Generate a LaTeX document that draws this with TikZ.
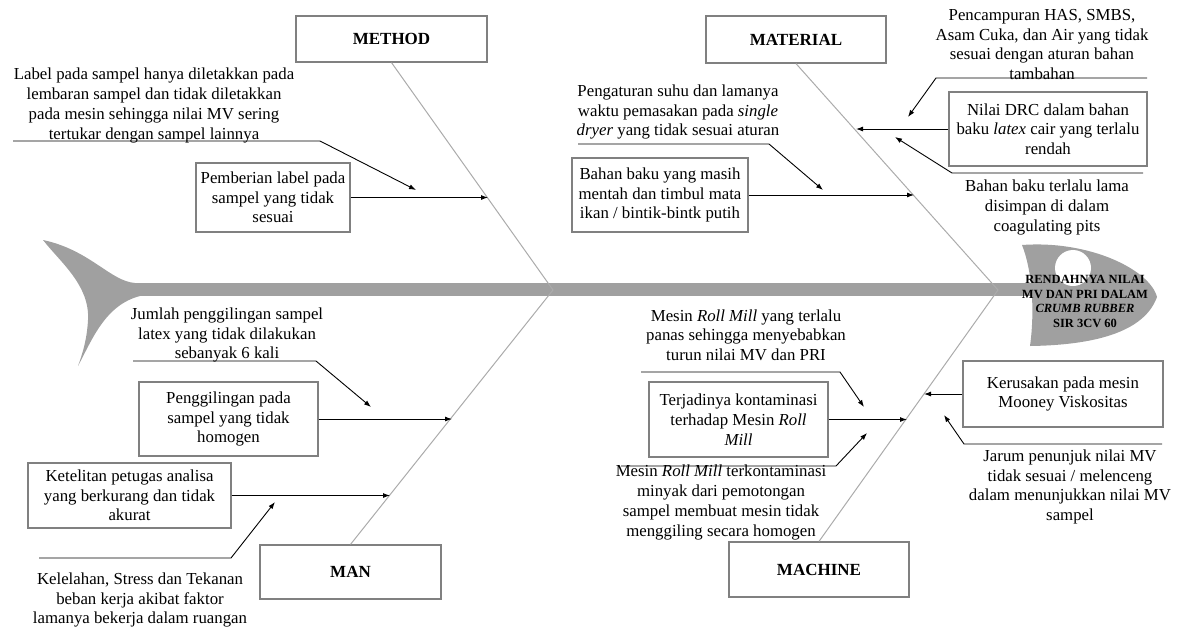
\documentclass[tikz,border=0pt]{standalone}
\usepackage{fontspec}
\setmainfont{Liberation Serif}
\usetikzlibrary{arrows.meta}

\definecolor{fishGray}{HTML}{A0A0A0}
\definecolor{boneGray}{HTML}{ABABAB}
\definecolor{boxGray}{HTML}{808080}

\begin{document}
\begin{tikzpicture}[x=1pt, y=-1pt,
    every node/.style={font=\fontsize{16.8}{19.7}\selectfont, align=center, inner sep=0pt},
    catbox/.style={draw=boxGray, line width=1.2pt, font=\fontsize{17}{20}\selectfont\bfseries},
    causebox/.style={draw=boxGray, line width=1.1pt},
    bone/.style={draw=boneGray, line width=1pt},
    arr/.style={-{Latex[length=7pt,width=5pt]}, line width=0.9pt},
    note/.style={line width=0.9pt, -{Latex[length=7pt,width=5pt]}}]

    % Fix the page size
    \useasboundingbox (0,0) rectangle (1178,630);

    % Size of the spine
    \def\spineTop{283}
    \def\spineBot{296}

    % Draw the tail, the spine and the head of the fish
    \fill[fishGray] (135,\spineTop) .. controls (110,281) and (90,250) .. (43,240)
        .. controls (60,262) and (90,285) .. (88,320)
        .. controls (87,340) and (82,355) .. (78,366)
        .. controls (92,340) and (105,305) .. (140,\spineBot) -- cycle;
    \fill[fishGray] (130,\spineTop) rectangle (1035,\spineBot);
    \fill[fishGray] (1022,245) .. controls (1090,240) and (1150,270) .. (1157,297)
        .. controls (1145,330) and (1100,345) .. (1030,346)
        .. controls (1035,310) and (1032,270) .. (1022,245) -- cycle;
    \fill[white] (1073,268) circle (18);

    % Problem in the head
    \node[font=\fontsize{12.5}{14.5}\selectfont\bfseries] (problem) at (1085,301.5)
        {RENDAHNYA NILAI\\MV DAN PRI DALAM\\\textit{CRUMB RUBBER}\\SIR 3CV 60};

    % Category boxes
    \node[catbox, minimum width=191pt, minimum height=46pt] (method) at (391.5,39) {METHOD};
    \node[catbox, minimum width=180pt, minimum height=47pt] (material) at (796,39.5) {MATERIAL};
    \node[catbox, minimum width=181pt, minimum height=54pt] (man) at (350.5,572) {MAN};
    \node[catbox, minimum width=180pt, minimum height=55pt] (machine) at (819,569.5) {MACHINE};

    % Bones meeting on the spine
    \coordinate (jointL) at (553,290);
    \coordinate (jointR) at (998,290);
    \draw[bone] (method.south) -- (jointL) -- (man.north);
    \draw[bone] (material.south) -- (jointR) -- (machine.north);

    % Cause boxes
    \node[causebox, minimum width=154pt, minimum height=69pt] (pemberian) at (273,197.5)
        {Pemberian label pada\\sampel yang tidak\\sesuai};
    \node[causebox, minimum width=176pt, minimum height=74pt] (bahanMentah) at (660,195)
        {Bahan baku yang masih\\mentah dan timbul mata\\ikan / bintik-bintk putih};
    \node[causebox, minimum width=198pt, minimum height=74pt] (nilaiDRC) at (1048,129)
        {Nilai DRC dalam bahan\\baku \textit{latex} cair yang terlalu\\rendah};
    \node[causebox, minimum width=179pt, minimum height=74pt] (penggilingan) at (228.5,419)
        {Penggilingan pada\\sampel yang tidak\\homogen};
    \node[causebox, minimum width=203pt, minimum height=65pt] (ketelitian) at (129.5,495.5)
        {Ketelitan petugas analisa\\yang berkurang dan tidak\\akurat};
    \node[causebox, minimum width=179pt, minimum height=75pt] (kontaminasi) at (738.5,419.5)
        {Terjadinya kontaminasi\\terhadap Mesin \textit{Roll}\\\textit{Mill}};
    \node[causebox, minimum width=200pt, minimum height=66pt] (kerusakan) at (1063,394)
        {Kerusakan pada mesin\\Mooney Viskositas};

    % Arrows from the boxes to the bones
    \coordinate (pemberianTip) at (488,197.5);
    \coordinate (bahanTip) at (914,195);
    \coordinate (drcTip) at (856,129);
    \coordinate (gilingTip) at (452,419);
    \coordinate (telitiTip) at (390,495.5);
    \coordinate (kontamTip) at (907,419.5);
    \coordinate (rusakTip) at (924,394);
    \draw[arr] (pemberian.east) -- (pemberianTip);
    \draw[arr] (bahanMentah.east) -- (bahanTip);
    \draw[arr] (nilaiDRC.west) -- (drcTip);
    \draw[arr] (penggilingan.east) -- (gilingTip);
    \draw[arr] (ketelitian.east) -- (telitiTip);
    \draw[arr] (kontaminasi.east) -- (kontamTip);
    \draw[arr] (kerusakan.west) -- (rusakTip);

    % Sub causes written on a line
    \node (labelSampel) at (154,105.5) {Label pada sampel hanya diletakkan pada\\lembaran sampel dan tidak diletakkan\\pada mesin sehingga nilai MV sering\\tertukar dengan sampel lainnya};
    \node (pengaturan) at (678,112) {Pengaturan suhu dan lamanya\\waktu pemasakan pada \textit{single}\\\textit{dryer} yang tidak sesuai aturan};
    \node (pencampuran) at (1042,44.5) {Pencampuran HAS, SMBS,\\Asam Cuka, dan Air yang tidak\\sesuai dengan aturan bahan\\tambahan};
    \node (bahanLama) at (1047,207.5) {Bahan baku terlalu lama\\disimpan di dalam\\coagulating pits};
    \node (jumlah) at (227,335) {Jumlah penggilingan sampel\\latex yang tidak dilakukan\\sebanyak 6 kali};
    \node (kelelahan) at (140,600) {Kelelahan, Stress dan Tekanan\\beban kerja akibat faktor\\lamanya bekerja dalam ruangan};
    \node (mesinPanas) at (746,335) {Mesin \textit{Roll Mill} yang terlalu\\panas sehingga menyebabkan\\turun nilai MV dan PRI};
    \node (mesinKotor) at (721,502.5) {Mesin \textit{Roll Mill} terkontaminasi\\minyak dari pemotongan\\sampel membuat mesin tidak\\menggiling secara homogen};
    \node (jarum) at (1070,487) {Jarum penunjuk nilai MV\\tidak sesuai / melenceng\\dalam menunjukkan nilai MV\\sampel};

    % Lines under the sub causes
    \coordinate (labelA) at (13,141);   \coordinate (labelB) at (320,141);   \coordinate (labelTip) at (416,190);
    \coordinate (aturA) at (578,144);   \coordinate (aturB) at (769,144);    \coordinate (aturTip) at (823,190);
    \coordinate (campurA) at (1147,78); \coordinate (campurB) at (936,78);   \coordinate (campurTip) at (908,117);
    \coordinate (lamaA) at (1143,173);  \coordinate (lamaB) at (952,173);    \coordinate (lamaTip) at (895,137);
    \coordinate (jumlahA) at (133,361); \coordinate (jumlahB) at (316,361);  \coordinate (jumlahTip) at (371,407);
    \coordinate (lelahA) at (39,558);   \coordinate (lelahB) at (231,558);   \coordinate (lelahTip) at (275,502);
    \coordinate (panasA) at (641,372);  \coordinate (panasB) at (840,372);   \coordinate (panasTip) at (864,407);
    \coordinate (kotorA) at (621,466);  \coordinate (kotorB) at (836,466);   \coordinate (kotorTip) at (867,433);
    \coordinate (jarumA) at (1162,444); \coordinate (jarumB) at (964,444);   \coordinate (jarumTip) at (944,415);
    \draw[note] (labelA) -- (labelB) -- (labelTip);
    \draw[note] (aturA) -- (aturB) -- (aturTip);
    \draw[note] (campurA) -- (campurB) -- (campurTip);
    \draw[note] (lamaA) -- (lamaB) -- (lamaTip);
    \draw[note] (jumlahA) -- (jumlahB) -- (jumlahTip);
    \draw[note] (lelahA) -- (lelahB) -- (lelahTip);
    \draw[note] (panasA) -- (panasB) -- (panasTip);
    \draw[note] (kotorA) -- (kotorB) -- (kotorTip);
    \draw[note] (jarumA) -- (jarumB) -- (jarumTip);

\end{tikzpicture}
\end{document}
